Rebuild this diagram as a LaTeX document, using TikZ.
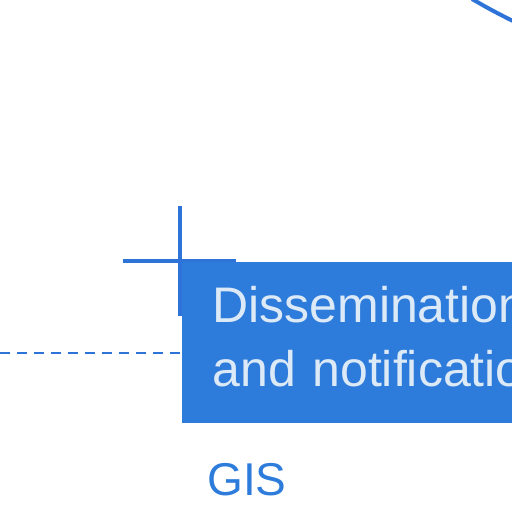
\documentclass[tikz,border=0pt]{standalone}
\usepackage{fontspec}
\setmainfont{Liberation Sans}
\usetikzlibrary{positioning, calc}
\definecolor{gisblue}{HTML}{2D7BDB}
\definecolor{gisline}{HTML}{2E74D8}
\definecolor{gislight}{HTML}{DCE9F7}
\tikzset{
  dissbox/.style={rectangle, fill=gisblue, draw=none, anchor=north west,
                  minimum width=200pt, minimum height=80.5pt, inner xsep=15pt,
                  text width=170pt, align=left, text=gislight, text depth=39pt,
                  font=\fontsize{25}{32}\selectfont},
  lbl/.style={text=gisblue, inner sep=0pt, font=\fontsize{23}{28}\selectfont},
  cross/.style={draw=gisline, line width=2.2pt},
  link/.style={draw=gisline, line width=1pt, dash pattern=on 5pt off 3.5pt},
  rim/.style={draw=gisline, line width=2pt},
}

\begin{document}
\begin{tikzpicture}[x=0.5pt, y=-0.5pt]
    \useasboundingbox (0,0) rectangle (512,512);
    \clip (0,0) rectangle (512,512);
    % crosshair
    \draw[cross] (180,206) -- (180,316);
    \draw[cross, line width=2pt] (123,261) -- (236,261);
    % box
    \node[dissbox] (diss) at (182,262) {Dissemination\\and notification};
    \node[lbl, anchor=base west] (gis) at (207,495) {GIS};
    % link from the left
    \coordinate (lft) at (0,353);
    \draw[link] (lft) -- (lft -| diss.west);
    % outer ring, top right
    \coordinate (rima) at (472,-1);
    \coordinate (rimb) at (515,22);
    \draw[rim] (rima) to[bend right=2] (rimb);
\end{tikzpicture}
\end{document}
